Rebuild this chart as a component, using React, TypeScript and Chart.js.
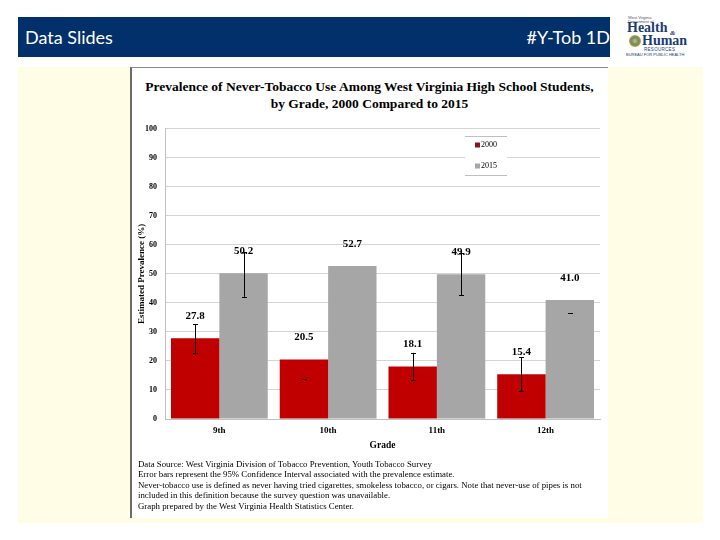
import React, { useEffect, useRef } from "react";
import { Chart, registerables } from "chart.js";

Chart.register(...registerables);

const grades = ["9th", "10th", "11th", "12th"];
const series2000 = [27.8, 20.5, 18.1, 15.4];
const series2015 = [50.2, 52.7, 49.9, 41.0];
const errLow2000: (number | null)[] = [22.8, 13.8, 13.4, 9.5];
const errHigh2000: (number | null)[] = [32.6, null, 22.8, 21.2];
const errLow2015: (number | null)[] = [42.1, null, 42.6, 36.6];
const errHigh2015: (number | null)[] = [57.4, null, 57.2, null];
const yTicks = [0, 10, 20, 30, 40, 50, 60, 70, 80, 90, 100];
const seriesLabels = ["2000", "2015"];

const titleLines = [
  "Prevalence of Never-Tobacco Use Among West Virginia High School Students,",
  "by Grade, 2000 Compared to 2015",
];
const footnotes = [
  "Data Source: West Virginia Division of Tobacco Prevention, Youth Tobacco Survey",
  "Error bars represent the 95% Confidence Interval associated with the prevalence estimate.",
  "Never-tobacco use is defined as never having tried cigarettes, smokeless tobacco, or cigars. Note that never-use of pipes is not",
  "included in this definition because the survey question was unavailable.",
  "Graph prepared by the West Virginia Health Statistics Center.",
];

const RED = "#c00000";
const GRAY = "#a6a6a6";
const SERIF = "'Liberation Serif', 'Times New Roman', serif";

const errorBarPlugin = {
  id: "errorBars",
  afterDatasetsDraw(chart: any) {
    const ctx = chart.ctx;
    const yScale = chart.scales.y;
    const lows = [errLow2000, errLow2015];
    const highs = [errHigh2000, errHigh2015];
    ctx.save();
    ctx.strokeStyle = "#000";
    ctx.lineWidth = 1;
    chart.data.datasets.forEach((_: any, di: number) => {
      const meta = chart.getDatasetMeta(di);
      meta.data.forEach((el: any, i: number) => {
        const lo = lows[di][i];
        const hi = highs[di][i];
        const x = Math.round(el.x) + 0.5;
        const cap = 2.5;
        const draw = (v: number) => {
          const y = Math.round(yScale.getPixelForValue(v)) + 0.5;
          ctx.beginPath();
          ctx.moveTo(x - cap, y);
          ctx.lineTo(x + cap, y);
          ctx.stroke();
        };
        if (lo != null && hi != null) {
          ctx.beginPath();
          ctx.moveTo(x, yScale.getPixelForValue(lo));
          ctx.lineTo(x, yScale.getPixelForValue(hi));
          ctx.stroke();
        }
        if (lo != null) draw(lo);
        if (hi != null) draw(hi);
      });
    });
    ctx.restore();
  },
};

const valueLabelPlugin = {
  id: "valueLabels",
  afterDatasetsDraw(chart: any) {
    const ctx = chart.ctx;
    ctx.save();
    ctx.font = `bold 11px ${SERIF}`;
    ctx.fillStyle = "#000";
    ctx.textAlign = "center";
    ctx.textBaseline = "middle";
    chart.data.datasets.forEach((ds: any, di: number) => {
      const meta = chart.getDatasetMeta(di);
      meta.data.forEach((el: any, i: number) => {
        ctx.fillText(ds.data[i].toFixed(1), el.x, el.y - 22);
      });
    });
    ctx.restore();
  },
};

const boxLegendPlugin = {
  id: "boxLegend",
  afterDraw(chart: any) {
    const { ctx, chartArea } = chart;
    const left = Math.round(chartArea.right - 135);
    const right = Math.round(chartArea.right - 93);
    const top = Math.round(chartArea.top + 7);
    const bottom = top + 39;
    ctx.save();
    ctx.fillStyle = "#fff";
    ctx.fillRect(left, top, right - left, bottom - top);
    ctx.strokeStyle = "#bfbfbf";
    ctx.lineWidth = 1;
    ctx.beginPath();
    ctx.moveTo(left, top + 0.5);
    ctx.lineTo(right, top + 0.5);
    ctx.moveTo(left, bottom + 0.5);
    ctx.lineTo(right, bottom + 0.5);
    ctx.stroke();
    ctx.font = `8px ${SERIF}`;
    ctx.textBaseline = "middle";
    chart.data.datasets.forEach((ds: any, i: number) => {
      const cy = top + 9 + i * 21;
      ctx.fillStyle = i === 0 ? "#8b1515" : ds.backgroundColor;
      ctx.fillRect(left + 10, cy - 2.5, 5, 5);
      ctx.fillStyle = "#000";
      ctx.fillText(ds.label, left + 16, cy);
    });
    ctx.restore();
  },
};

function BarChart() {
  const ref = useRef<HTMLCanvasElement>(null);
  useEffect(() => {
    if (!ref.current) return;
    const chart = new Chart(ref.current, {
      type: "bar",
      data: {
        labels: grades,
        datasets: [
          { label: seriesLabels[0], data: series2000, backgroundColor: RED, borderWidth: 0 },
          { label: seriesLabels[1], data: series2015, backgroundColor: GRAY, borderWidth: 0 },
        ],
      },
      options: {
        animation: false,
        responsive: false,
        maintainAspectRatio: false,
        layout: { padding: { top: 6, right: 8, left: 0, bottom: 0 } },
        plugins: {
          legend: { display: false },
          tooltip: { enabled: false },
          title: { display: false },
        },
        datasets: {
          bar: { categoryPercentage: 0.89, barPercentage: 1.0 },
        },
        scales: {
          x: {
            grid: { display: false, drawTicks: false },
            border: { display: true, color: "#bfbfbf" },
            ticks: {
              padding: 6,
              color: "#000",
              font: { family: SERIF, size: 9, weight: "bold" },
            },
            title: {
              display: true,
              text: "Grade",
              color: "#000",
              font: { family: SERIF, size: 9.5, weight: "bold" },
              padding: { top: 0, bottom: 9 },
            },
            afterFit(scale: any) {
              scale.height = 41;
            },
          },
          y: {
            min: 0,
            max: 100,
            afterBuildTicks(scale: any) {
              scale.ticks = yTicks.map((v) => ({ value: v }));
            },
            grid: { color: "#d4d4d4", drawTicks: false },
            border: { display: true, color: "#bfbfbf" },
            ticks: {
              padding: 8,
              color: "#000",
              font: { family: SERIF, size: 8, weight: "bold" },
            },
            title: {
              display: true,
              text: "Estimated Prevalence (%)",
              color: "#000",
              font: { family: SERIF, size: 9, weight: "bold" },
              padding: { top: 5, bottom: 0 },
            },
            afterFit(scale: any) {
              scale.width = 34;
            },
          },
        },
      },
      plugins: [errorBarPlugin, valueLabelPlugin, boxLegendPlugin],
    } as any);
    return () => chart.destroy();
  }, []);
  return (
    <canvas
      ref={ref}
      width={477}
      height={344}
      style={{ position: "absolute", left: 131, top: 116, width: 477, height: 344 }}
    />
  );
}

function Logo() {
  const navy = "#1d3b78";
  return (
    <div style={{ position: "absolute", left: 624, top: 14, width: 70, height: 44, fontFamily: SERIF }}>
      <div style={{ position: "absolute", left: 4, top: 2, fontSize: 4, lineHeight: "3.5px", color: "#556", fontFamily: "Arial, sans-serif" }}>
        West Virginia<br />Department of
      </div>
      <div style={{ position: "absolute", left: 3, top: 7, fontSize: 14, fontWeight: "bold", color: navy, lineHeight: "14px" }}>
        Health
      </div>
      <div style={{ position: "absolute", left: 46, top: 15, fontSize: 7, fontWeight: "bold", color: navy, fontStyle: "italic" }}>&amp;</div>
      <div
        style={{
          position: "absolute", left: 5, top: 21, width: 12, height: 12, borderRadius: "50%",
          background: "radial-gradient(circle, #b4c49a 0%, #6f8a55 45%, #c9a24a 70%, #8a6d2a 100%)",
        }}
      />
      <div style={{ position: "absolute", left: 18, top: 20, fontSize: 14, fontWeight: "bold", color: navy, lineHeight: "14px" }}>
        Human
      </div>
      <div style={{ position: "absolute", left: 20, top: 33, fontSize: 4.5, color: navy, fontFamily: "Arial, sans-serif", letterSpacing: 0.3 }}>
        RESOURCES
      </div>
      <div style={{ position: "absolute", left: 2, top: 38, fontSize: 4, color: navy, fontFamily: "Arial, sans-serif", whiteSpace: "nowrap" }}>
        BUREAU FOR PUBLIC HEALTH
      </div>
    </div>
  );
}

export default function App() {
  return (
    <div style={{ position: "absolute", left: 0, top: 0, width: 720, height: 540, background: "#fff", overflow: "hidden" }}>
      <div
        style={{
          position: "absolute", left: 18, top: 17, width: 592, height: 40, background: "#02306b",
          color: "#fff", fontFamily: "Lato, 'Open Sans', sans-serif", fontSize: 18,
        }}
      >
        <div style={{ position: "absolute", left: 7, top: 9 }}>Data Slides</div>
        <div style={{ position: "absolute", right: 0, top: 9 }}>#Y-Tob 1D</div>
      </div>
      <Logo />
      <div style={{ position: "absolute", left: 18, top: 67, width: 685, height: 456, background: "#fffde6" }} />
      <div
        style={{
          position: "absolute", left: 130, top: 67, width: 478, height: 451, background: "#fff",
          borderLeft: "2px solid #6b6b6b", borderTop: "1px solid #8a8a8a", boxSizing: "border-box",
        }}
      />
      <div
        style={{
          position: "absolute", left: 131, top: 79, width: 477, textAlign: "center",
          fontFamily: SERIF, fontWeight: "bold", fontSize: 13.5, lineHeight: "16.5px", color: "#000",
        }}
      >
        {titleLines.map((t, i) => (
          <div key={i}>{t}</div>
        ))}
      </div>
      <BarChart />
      <div
        style={{
          position: "absolute", left: 138, top: 459, width: 470,
          fontFamily: SERIF, fontSize: 8.8, lineHeight: "10.4px", color: "#000",
        }}
      >
        {footnotes.map((t, i) => (
          <div key={i} style={{ whiteSpace: "nowrap" }}>{t}</div>
        ))}
      </div>
    </div>
  );
}
